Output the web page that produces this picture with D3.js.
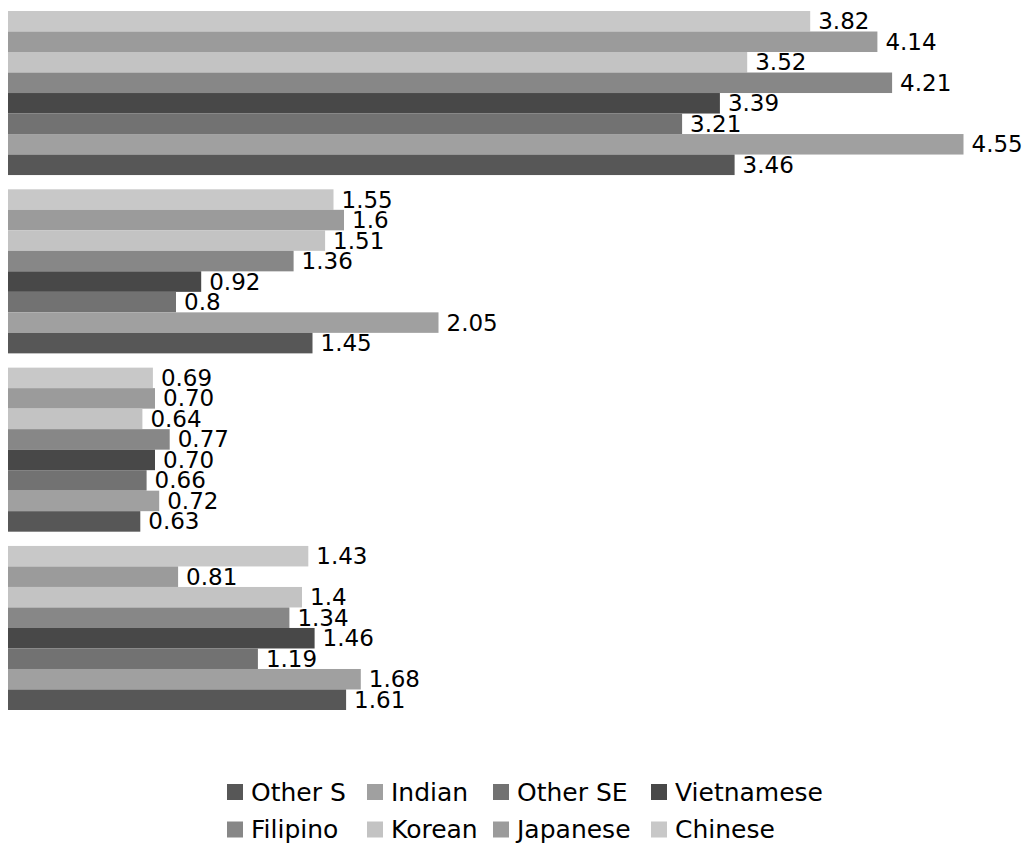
<!DOCTYPE html>
<html>
<head>
<meta charset="utf-8">
<script src="https://cdn.jsdelivr.net/npm/d3@7"></script>
<style>
  html, body { margin: 0; padding: 0; background: #fff; }
  svg { display: block; }
  text { font-family: "DejaVu Sans", sans-serif; fill: #000; }
</style>
</head>
<body>
<svg id="chart" width="1027" height="844"></svg>
<script>
// Four groups of bars, one bar per series in each group
const groups = ["g1", "g2", "g3", "g4"];

// Series listed top to bottom inside each group
const seriesNames = ["Chinese", "Japanese", "Korean", "Filipino", "Vietnamese", "Other SE", "Indian", "Other S"];
const seriesColors = ["#c8c8c8", "#9b9b9b", "#c3c3c3", "#878787", "#484848", "#727272", "#a0a0a0", "#575757"];

// Values per series, one per group (kept as printed)
const chinese    = ["3.82", "1.55", "0.69", "1.43"];
const japanese   = ["4.14", "1.6",  "0.70", "0.81"];
const korean     = ["3.52", "1.51", "0.64", "1.4"];
const filipino   = ["4.21", "1.36", "0.77", "1.34"];
const vietnamese = ["3.39", "0.92", "0.70", "1.46"];
const otherSE    = ["3.21", "0.8",  "0.66", "1.19"];
const indian     = ["4.55", "2.05", "0.72", "1.68"];
const otherS     = ["3.46", "1.45", "0.63", "1.61"];

const seriesValues = [chinese, japanese, korean, filipino, vietnamese, otherSE, indian, otherS];

// Legend order, two rows of four
const legendRows = [
  ["Other S", "Indian", "Other SE", "Vietnamese"],
  ["Filipino", "Korean", "Japanese", "Chinese"]
];

const svg = d3.select("#chart");

const maxVal = d3.max(seriesValues.flat(), d => +d);
const x = d3.scaleLinear().domain([0, maxVal]).range([8, 963.5]);
const y0 = d3.scaleBand().domain(groups).range([11, 710]).paddingInner(0.08).paddingOuter(0);
const y1 = d3.scaleBand().domain(seriesNames).range([0, y0.bandwidth()]);
const color = d3.scaleOrdinal().domain(seriesNames).range(seriesColors);

const rows = [];
groups.forEach((g, gi) => {
  seriesNames.forEach((s, si) => {
    rows.push({ group: g, series: s, label: seriesValues[si][gi], value: +seriesValues[si][gi] });
  });
});

const gGroups = svg.append("g").selectAll("g")
  .data(groups)
  .join("g")
  .attr("transform", d => `translate(0,${y0(d)})`);

gGroups.selectAll("rect")
  .data(g => rows.filter(r => r.group === g))
  .join("rect")
  .attr("x", x(0))
  .attr("y", d => y1(d.series))
  .attr("width", d => x(d.value) - x(0))
  .attr("height", y1.bandwidth())
  .attr("fill", d => color(d.series));

gGroups.selectAll("text")
  .data(g => rows.filter(r => r.group === g))
  .join("text")
  .attr("x", d => x(d.value) + 8)
  .attr("y", d => y1(d.series) + y1.bandwidth() / 2)
  .attr("dy", "0.35em")
  .style("font-size", "23px")
  .text(d => d.label);

// Legend
const legendCols = [227, 367, 493, 651];
const legendTop = [784, 821.5];
const legend = svg.append("g");
legendRows.forEach((row, ri) => {
  row.forEach((name, ci) => {
    const item = legend.append("g")
      .attr("transform", `translate(${legendCols[ci]},${legendTop[ri]})`);
    item.append("rect")
      .attr("width", 16).attr("height", 16)
      .attr("fill", color(name));
    item.append("text")
      .attr("x", 24)
      .attr("y", 8)
      .attr("dy", "0.35em")
      .style("font-size", "25px")
      .text(name);
  });
});
</script>
</body>
</html>
